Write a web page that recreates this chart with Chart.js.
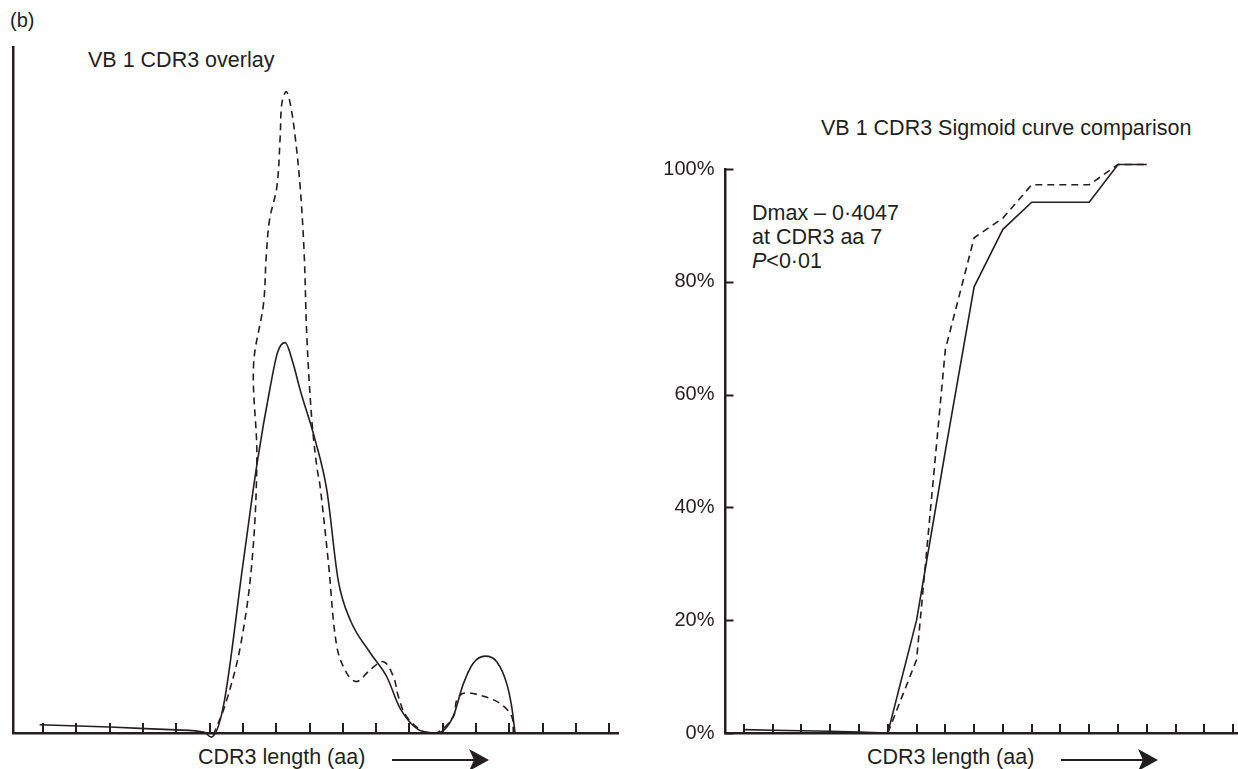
<!DOCTYPE html>
<html>
<head>
<meta charset="utf-8">
<script src="https://cdn.jsdelivr.net/npm/chart.js@4.4.1/dist/chart.umd.min.js"></script>
<style>
  html, body { margin: 0; padding: 0; background: #fff; }
  body { width: 1238px; height: 769px; position: relative; overflow: hidden;
         font-family: "Liberation Sans", Arial, sans-serif; color: #231f20; }
  .t { position: absolute; white-space: nowrap; font-size: 21.5px; line-height: 21.5px; }
  .box { position: absolute; top: 0; height: 769px; }
  svg { position: absolute; left: 0; top: 0; }
</style>
</head>
<body>
<div class="t" style="left:10px;top:10px;font-size:20px;line-height:20px;">(b)</div>
<div class="t" style="left:88px;top:49.5px;">VB 1 CDR3 overlay</div>
<div class="t" style="left:821px;top:118px;">VB 1 CDR3 Sigmoid curve comparison</div>
<div class="t" style="left:752px;top:200.5px;line-height:24px;">Dmax – 0·4047<br>at CDR3 aa 7<br><i>P</i>&lt;0·01</div>
<div class="t" style="left:198px;top:746.5px;">CDR3 length (aa)</div>
<div class="t" style="left:867px;top:746.5px;">CDR3 length (aa)</div>

<div class="box" style="left:0;width:620px;"><canvas id="overlay"></canvas></div>
<div class="box" style="left:620px;width:618px;"><canvas id="sigmoid"></canvas></div>

<svg width="1238" height="769">
  <g fill="#231f20" stroke="#231f20">
    <line x1="392" y1="760" x2="474" y2="760" stroke-width="2"/>
    <path d="M469 749 L489 760 L469 771 L474 760 Z" stroke="none"/>
    <line x1="1061" y1="760" x2="1143" y2="760" stroke-width="2"/>
    <path d="M1138 749 L1158 760 L1138 771 L1143 760 Z" stroke="none"/>
  </g>
</svg>

<script>
// ---- spectratype overlay (relative peak intensity, % of axis height) ----
const overlayLenA = [-0.1, 2, 4, 4.85, 5.05, 5.41, 6.0, 6.43, 6.82, 7.05, 7.27, 7.5, 7.72, 8.17, 8.52, 8.86,
                     9.22, 9.82, 10.32, 10.72, 11.41, 11.82, 12.31, 12.62, 12.92, 13.27, 13.62, 13.92, 14.07, 14.17];
const overlayA    = [1.2, 0.87, 0.45, 0.1, -0.6, 3.8, 24.5, 39.4, 50.4, 55.6, 56.9, 54.0, 50.0, 42.7, 35.4, 22.3,
                     16.5, 11.7, 8.2, 3.6, 0.2, 0, 2.4, 7.2, 10.2, 11.2, 10.4, 7.2, 3.8, 0];

const overlayLenB = [5.11, 5.47, 5.92, 6.27, 6.42, 6.32, 6.62, 6.70, 6.80, 7.02, 7.12, 7.17, 7.30, 7.42, 7.57,
                     7.72, 7.84, 7.92, 8.07, 8.22, 8.32, 8.57, 8.82, 9.12, 9.42, 9.82, 10.22, 10.52, 10.67,
                     10.9, 11.41, 11.82, 12.32, 12.42, 12.62, 13.12, 13.72, 14.07, 14.12];
const overlayB    = [-0.3, 4.1, 12.5, 24.8, 40.2, 53.6, 62.6, 69.4, 74.8, 79.6, 86.9, 91.8, 93.5, 91.8, 86.9,
                     79.6, 69.9, 57.8, 45.6, 38.8, 35.9, 24.7, 12.6, 8.7, 7.5, 9.2, 10.4, 8.2, 5.3,
                     2.5, 0.2, 0, 2.4, 4.8, 5.8, 5.5, 4.3, 2.4, 0];

// ---- cumulative distribution (%) per CDR3 length step ----
const cumLen = [0, 1, 2, 3, 4, 5, 6, 7, 8, 9, 10, 11, 12, 13, 14];
const cumA   = [0.6, 0.5, 0.4, 0.3, 0.15, 0, 20, 50, 79.1, 89.3, 94.1, 94.1, 94.1, 100.8, 100.8];
const cumB   = [0, 0, 0, 0, 0, 0, 13, 68, 87.8, 91.3, 97.2, 97.2, 97.2, 100.8, 100.8];

// ---- axis ticks ----
const lengthTicks  = [0, 1, 2, 3, 4, 5, 6, 7, 8, 9, 10, 11, 12, 13, 14, 15, 16, 17];
const percentTicks = [0, 20, 40, 60, 80, 100];

const INK = '#231f20';
const FONT = '"Liberation Sans", Arial, sans-serif';

const pairs = (xs, ys) => xs.map((x, i) => ({ x, y: ys[i] }));

// short inward tick marks on the axes
const innerTicks = {
  id: 'innerTicks',
  beforeDatasetsDraw(chart, args, opts) {
    const { ctx, chartArea } = chart;
    ctx.save();
    ctx.strokeStyle = INK;
    ctx.lineWidth = 2;
    ctx.beginPath();
    for (const v of opts.x || []) {
      const px = Math.round(chart.scales.x.getPixelForValue(v));
      ctx.moveTo(px, chartArea.bottom);
      ctx.lineTo(px, chartArea.bottom - opts.xLen);
    }
    for (const v of opts.y || []) {
      const py = Math.round(chart.scales.y.getPixelForValue(v)) + 0.5;
      ctx.moveTo(chartArea.left, py);
      ctx.lineTo(chartArea.left + opts.yLen, py);
    }
    ctx.stroke();
    ctx.restore();
  }
};

const bareGrid = { display: true, drawOnChartArea: false, drawTicks: false };

new Chart(document.getElementById('overlay'), {
  type: 'line',
  data: {
    datasets: [
      { data: pairs(overlayLenA, overlayA), borderColor: INK, borderWidth: 1.6,
        pointRadius: 0, cubicInterpolationMode: 'monotone', clip: false },
      { data: pairs(overlayLenB, overlayB), borderColor: INK, borderWidth: 1.6,
        borderDash: [7, 5], pointRadius: 0, tension: 0.35, clip: false }
    ]
  },
  options: {
    responsive: true, maintainAspectRatio: false, animation: false,
    layout: { padding: { left: 13, top: 47, right: 2, bottom: 36 } },
    plugins: { legend: { display: false }, tooltip: { enabled: false },
               innerTicks: { x: lengthTicks, xLen: 10 } },
    scales: {
      x: { type: 'linear', min: -0.9, max: 17.26, grid: bareGrid,
           border: { display: true, color: INK, width: 2.5 },
           ticks: { display: false }, afterFit: s => { s.height = 0; } },
      y: { type: 'linear', min: 0, max: 100, grid: bareGrid,
           border: { display: true, color: INK, width: 2.5 },
           ticks: { display: false }, afterFit: s => { s.width = 0; } }
    }
  },
  plugins: [innerTicks]
});

new Chart(document.getElementById('sigmoid'), {
  type: 'line',
  data: {
    datasets: [
      { data: pairs(cumLen, cumA), borderColor: INK, borderWidth: 1.6,
        pointRadius: 0, tension: 0, clip: false },
      { data: pairs(cumLen, cumB), borderColor: INK, borderWidth: 1.6,
        borderDash: [7, 5], pointRadius: 0, tension: 0, clip: false }
    ]
  },
  options: {
    responsive: true, maintainAspectRatio: false, animation: false,
    layout: { padding: { left: 0, top: 169, right: 0, bottom: 36 } },
    plugins: { legend: { display: false }, tooltip: { enabled: false },
               innerTicks: { x: lengthTicks, xLen: 9, y: percentTicks, yLen: 8 } },
    scales: {
      x: { type: 'linear', min: -0.64, max: 17.17, grid: bareGrid,
           border: { display: true, color: INK, width: 2.5 },
           ticks: { display: false }, afterFit: s => { s.height = 0; } },
      y: { type: 'linear', min: 0, max: 100, grid: bareGrid,
           border: { display: true, color: INK, width: 2.5 },
           afterBuildTicks: s => { s.ticks = percentTicks.map(v => ({ value: v })); },
           ticks: { color: INK, padding: 11, font: { family: FONT, size: 20 },
                    callback: v => v + '%' },
           afterFit: s => { s.width = 105.5; } }
    }
  },
  plugins: [innerTicks]
});
</script>
</body>
</html>
